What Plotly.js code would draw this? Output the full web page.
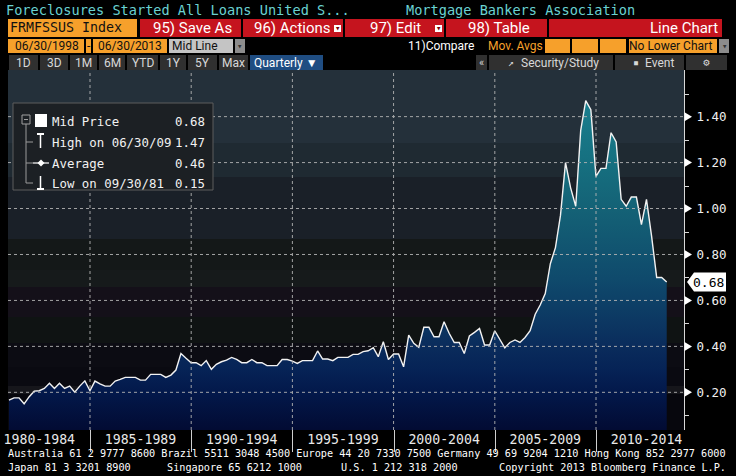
<!DOCTYPE html>
<html>
<head>
<meta charset="utf-8">
<script src="https://cdn.plot.ly/plotly-3.0.1.min.js"></script>
<style>
html,body{margin:0;padding:0;background:#000;}
#chart{width:736px;height:476px;}
</style>
</head>
<body>
<div id="chart"></div>
<script>
// ---------------- DATA ----------------
const quarterDates = [
  '1980-12-31',
  '1981-03-31','1981-06-30','1981-09-30','1981-12-31',
  '1982-03-31','1982-06-30','1982-09-30','1982-12-31',
  '1983-03-31','1983-06-30','1983-09-30','1983-12-31',
  '1984-03-31','1984-06-30','1984-09-30','1984-12-31',
  '1985-03-31','1985-06-30','1985-09-30','1985-12-31',
  '1986-03-31','1986-06-30','1986-09-30','1986-12-31',
  '1987-03-31','1987-06-30','1987-09-30','1987-12-31',
  '1988-03-31','1988-06-30','1988-09-30','1988-12-31',
  '1989-03-31','1989-06-30','1989-09-30','1989-12-31',
  '1990-03-31','1990-06-30','1990-09-30','1990-12-31',
  '1991-03-31','1991-06-30','1991-09-30','1991-12-31',
  '1992-03-31','1992-06-30','1992-09-30','1992-12-31',
  '1993-03-31','1993-06-30','1993-09-30','1993-12-31',
  '1994-03-31','1994-06-30','1994-09-30','1994-12-31',
  '1995-03-31','1995-06-30','1995-09-30','1995-12-31',
  '1996-03-31','1996-06-30','1996-09-30','1996-12-31',
  '1997-03-31','1997-06-30','1997-09-30','1997-12-31',
  '1998-03-31','1998-06-30','1998-09-30','1998-12-31',
  '1999-03-31','1999-06-30','1999-09-30','1999-12-31',
  '2000-03-31','2000-06-30','2000-09-30','2000-12-31',
  '2001-03-31','2001-06-30','2001-09-30','2001-12-31',
  '2002-03-31','2002-06-30','2002-09-30','2002-12-31',
  '2003-03-31','2003-06-30','2003-09-30','2003-12-31',
  '2004-03-31','2004-06-30','2004-09-30','2004-12-31',
  '2005-03-31','2005-06-30','2005-09-30','2005-12-31',
  '2006-03-31','2006-06-30','2006-09-30','2006-12-31',
  '2007-03-31','2007-06-30','2007-09-30','2007-12-31',
  '2008-03-31','2008-06-30','2008-09-30','2008-12-31',
  '2009-03-31','2009-06-30','2009-09-30','2009-12-31',
  '2010-03-31','2010-06-30','2010-09-30','2010-12-31',
  '2011-03-31','2011-06-30','2011-09-30','2011-12-31',
  '2012-03-31','2012-06-30','2012-09-30','2012-12-31',
  '2013-03-31','2013-06-30'
];
const midPrice = [
  0.166,
  0.176,0.176,0.150,0.181,
  0.205,0.207,0.217,0.239,
  0.217,0.239,0.217,0.227,
  0.201,0.227,0.250,0.207,
  0.249,0.237,0.227,0.227,
  0.249,0.256,0.265,0.265,
  0.265,0.253,0.253,0.278,
  0.278,0.278,0.265,0.275,
  0.297,0.369,0.348,0.329,
  0.329,0.316,0.338,0.300,
  0.322,0.333,0.340,0.352,
  0.343,0.329,0.329,0.343,
  0.329,0.329,0.316,0.316,
  0.316,0.343,0.343,0.336,
  0.326,0.338,0.338,0.338,
  0.380,0.345,0.345,0.338,
  0.352,0.352,0.352,0.365,
  0.365,0.377,0.381,0.394,
  0.355,0.420,0.343,0.367,
  0.367,0.311,0.449,0.413,
  0.396,0.483,0.483,0.442,
  0.442,0.507,0.457,0.417,
  0.417,0.369,0.445,0.461,
  0.478,0.406,0.406,0.468,
  0.432,0.394,0.417,0.428,
  0.417,0.439,0.468,0.540,
  0.580,0.630,0.760,0.830,
  0.970,1.200,1.090,1.010,
  1.340,1.470,1.430,1.140,
  1.175,1.175,1.330,1.290,
  1.040,1.010,1.050,1.050,
  0.930,1.040,0.880,0.700,
  0.700,0.680
];
const periodLabels = ['1980-1984','1985-1989','1990-1994','1995-1999','2000-2004','2005-2009','2010-2014'];
const periodMidDates = ['1982-07-01','1987-07-01','1992-07-01','1997-07-01','2002-07-01','2007-07-01','2012-07-01'];
const periodBoundaryDates = ['1985-01-01','1990-01-01','1995-01-01','2000-01-01','2005-01-01','2010-01-01'];
const yTickVals = [0.2,0.4,0.6,0.8,1.0,1.2,1.4];
const yTickText = ['0.20','0.40','0.60','0.80','1.00','1.20','1.40'];
const yMinorVals = [0.1,0.3,0.5,0.7,0.9,1.1,1.3,1.5];
const legendLabels = ['Mid Price','High on 06/30/09','Average','Low on 09/30/81'];
const legendValues = ['0.68','1.47','0.46','0.15'];
const titleLeft = 'Foreclosures Started All Loans United S...';
const titleRight = 'Mortgage Bankers Association';

// ---------------- GEOMETRY HELPERS ----------------
const W = 736, H = 476, ML = 8, MR = 52, MT = 70, MB = 46;
const PW = W - ML - MR, PH = H - MT - MB;
const px = X => (X - ML) / PW;
const py = Y => (H - MB - Y) / PH;
const yMin = 0.036, yMax = 1.603;
const xRange = ['1980-12-13','2014-05-08'];
const yFrac = v => (v - yMin) / (yMax - yMin);
const xFrac = d => (Date.parse(d) - Date.parse(xRange[0])) / (Date.parse(xRange[1]) - Date.parse(xRange[0]));
const yPix = v => 430 - yFrac(v) * PH;
const xPix = d => 8 + xFrac(d) * PW;

const MONO = 'DejaVu Sans Mono, Liberation Mono, monospace';
const NARROW = 'Liberation Sans Narrow, Roboto, sans-serif';
const ORANGE = '#f6a02b', RED = '#c5141e';
const GRID = '#b4b4b4';

const shapes = [];
const annotations = [];
function R(x0, y0, x1, y1, fill, layer, lineColor) {
  shapes.push({type:'rect', xref:'paper', yref:'paper', x0:px(x0), x1:px(x1), y0:py(y1), y1:py(y0),
    fillcolor:fill, line:{width:lineColor ? 1 : 0, color:lineColor || fill}, layer:layer || 'above'});
}
function L(x0, y0, x1, y1, color, width) {
  shapes.push({type:'line', xref:'paper', yref:'paper', x0:px(x0), x1:px(x1), y0:py(y0), y1:py(y1),
    line:{color:color, width:width || 1}, layer:'above'});
}
function P(pts, fill) {
  const d = pts.map((p, i) => (i ? 'L' : 'M') + px(p[0]) + ',' + py(p[1])).join(' ') + ' Z';
  shapes.push({type:'path', xref:'paper', yref:'paper', path:d, fillcolor:fill, line:{width:0}, layer:'above'});
}
function T(x, y, text, size, color, anchor, family) {
  annotations.push({xref:'paper', yref:'paper', x:px(x), y:py(y), text:text, showarrow:false,
    xanchor:anchor || 'left', yanchor:'middle', borderpad:0,
    font:{family:family || MONO, size:size, color:color}});
}

// ---------------- BACKGROUND BANDS (plot area) ----------------
const bands = [
  [70,143,'#24303a'],[143,177,'#1f2a32'],[177,239,'#1a2028'],[239,270,'#141818'],
  [270,287,'#161a1b'],[287,317,'#141019'],[317,343,'#0f1313'],[343,367,'#0c0c13'],
  [367,386,'#0a0a11'],[386,394,'#16161b'],[394,430,'#07070d']
];
bands.forEach(b => R(8, b[0], 684, b[1], b[2], 'below'));

// ---------------- TRACES ----------------
const trace = {
  type:'scatter', mode:'lines', x:quarterDates, y:midPrice,
  line:{color:'#f2f2f2', width:1.4},
  fill:'tozeroy',
  fillgradient:{type:'vertical', start:yMin, stop:1.5, colorscale:[
    [0.00,'#020b33'],[0.11,'#03184a'],[0.18,'#062356'],[0.25,'#0a2c5c'],
    [0.32,'#0c3762'],[0.45,'#0f4a6c'],[0.66,'#146276'],[0.80,'#167080'],[1.00,'#1a8090']]},
  hoverinfo:'skip'
};
// dotted grid drawn over the fill, built from the tick arrays
const gx = [], gy = [];
yTickVals.forEach(v => { gx.push(xRange[0], xRange[1], null); gy.push(v, v, null); });
periodBoundaryDates.forEach(d => { gx.push(d, d, null); gy.push(yMin, yMax, null); });
const gridTrace = {type:'scatter', mode:'lines', x:gx, y:gy, connectgaps:false,
  line:{color:GRID, width:1, dash:'dot'}, opacity:0.9, hoverinfo:'skip'};

// ---------------- TICK MARKS ----------------
periodBoundaryDates.forEach(d => { const x = Math.round(xPix(d)) + 0.5; L(x, 430, x, 452, '#cfcfcf', 1); });
yMinorVals.forEach(v => { const y = Math.round(yPix(v)) + 0.5; L(684, y, 689, y, '#d8d8d8', 1); });
yTickVals.forEach(v => { const yc = yPix(v); P([[684.5, yc - 4.5], [692, yc], [684.5, yc + 4.5]], '#ffffff'); });

// last value tag
const lastVal = midPrice[midPrice.length - 1];
const lastY = yPix(lastVal);
P([[687, lastY], [694, lastY - 9.5], [726, lastY - 9.5], [726, lastY + 9.5], [694, lastY + 9.5]], '#ffffff');
annotations.push({xref:'paper', yref:'y', x:px(708), y:lastVal, text:lastVal.toFixed(2), showarrow:false,
  xanchor:'center', yanchor:'middle', font:{family:MONO, size:13, color:'#000'}});

// ---------------- HEADER ----------------
T(5, 10, titleLeft, 13.6, '#6ad2d2');
T(405, 10, titleRight, 13.6, '#6ad2d2');

R(8, 19, 137, 37, ORANGE);
T(9, 28, 'FRMFSSUS Index', 13.3, '#111');
[[140,241],[243,343],[345,444],[446,547],[549,722]].forEach(b => R(b[0], 19, b[1], 37, RED));
T(192, 28, '95) Save As', 15, '#fff', 'center', NARROW);
T(292, 28, '96) Actions', 15, '#fff', 'center', NARROW);
R(334, 25, 341, 32, '#ffffff'); T(337.5, 28.5, '▾', 9, '#7a0000', 'center');
T(395, 28, '97) Edit', 15, '#fff', 'center', NARROW);
R(435, 25, 442, 32, '#ffffff'); T(438.5, 28.5, '▾', 9, '#7a0000', 'center');
T(499, 28, '98) Table', 15, '#fff', 'center', NARROW);
T(719, 28, 'Line Chart', 15, '#fff', 'right', NARROW);

R(8, 39, 84, 53, ORANGE); R(86, 39, 91, 53, ORANGE); R(93, 39, 167, 53, ORANGE);
T(47, 46, '06/30/1998', 12, '#111', 'center', NARROW);
T(88.5, 46, '-', 12, '#111', 'center', NARROW);
T(130, 46, '06/30/2013', 12, '#111', 'center', NARROW);
R(169, 39, 233, 53, '#c4c4c4');
T(171, 46, 'Mid Line', 12, '#111', 'left', NARROW);
R(235, 39, 245, 53, '#8c8c8c'); T(240, 46, '▾', 9, '#333', 'center');
T(441, 46, '11)Compare', 12, '#ffffff', 'center', NARROW);
T(515, 46, 'Mov. Avgs', 12, ORANGE, 'center', NARROW);
R(545, 39, 570, 53, ORANGE); R(572, 39, 598, 53, ORANGE); R(600, 39, 626, 53, ORANGE);
R(629, 39, 717, 53, ORANGE);
T(670, 46, 'No Lower Chart', 12, '#111', 'center', NARROW);
R(719, 39, 729, 53, '#8c8c8c'); T(724, 46, '▾', 9, '#333', 'center');

const rangeButtons = [[9,38,'1D'],[40,68,'3D'],[70,97,'1M'],[99,125,'6M'],[127,158,'YTD'],[160,186,'1Y'],[188,217,'5Y'],[219,248,'Max']];
rangeButtons.forEach(b => { R(b[0], 55, b[1], 70, '#303030'); T((b[0]+b[1])/2, 62.5, b[2], 12, '#d8d8d8', 'center', NARROW); });
R(250, 55, 323, 70, '#1f4d82'); T(286, 62.5, 'Quarterly ▼', 12, '#ffffff', 'center', NARROW);
R(476, 55, 487, 70, '#303030'); T(481.5, 62.5, '«', 11, '#d8d8d8', 'center', NARROW);
R(489, 55, 613, 70, '#303030'); T(511, 62.5, '↗', 10, '#d8d8d8', 'center'); T(560, 62.5, 'Security/Study', 12, '#d8d8d8', 'center', NARROW);
R(615, 55, 684, 70, '#303030'); T(636, 62.5, '▪', 10, '#d8d8d8', 'center'); T(659, 62.5, 'Event', 12, '#d8d8d8', 'center', NARROW);
R(686, 55, 727, 70, '#303030'); T(706, 62.5, '⚙', 11, '#d8d8d8', 'center');

// ---------------- LEGEND BOX ----------------
R(13, 103, 213, 190, '#1c2024', 'above', '#5c5c5c');
R(22, 115, 30, 124, 'rgba(0,0,0,0)', 'above', '#a0a0a0');
L(24, 119.5, 28, 119.5, '#a0a0a0', 1);
L(26, 124, 26, 183, '#9a9a9a', 1);
[142, 163, 183].forEach(y => L(26, y, 33, y, '#9a9a9a', 1));
R(35, 114, 47, 127, '#ffffff');
L(37, 134, 44, 134, '#ffffff', 2); L(40.5, 134, 40.5, 148, '#ffffff', 1.5);
L(33, 163, 49, 163, '#ffffff', 1.2); P([[41,159.5],[44.5,163],[41,166.5],[37.5,163]], '#ffffff');
L(40.5, 176, 40.5, 189, '#ffffff', 1.5); L(37, 189, 44, 189, '#ffffff', 2);
const legendRowY = [121, 142, 163, 183];
legendLabels.forEach((s, i) => T(51, legendRowY[i], s, 12.4, '#f2f2f2'));
legendValues.forEach((s, i) => T(206, legendRowY[i], s, 12.4, '#f2f2f2', 'right'));

// ---------------- FOOTER ----------------
T(7, 453, 'Australia 61 2 9777 8600 Brazil 5511 3048 4500 Europe 44 20 7330 7500 Germany 49 69 9204 1210 Hong Kong 852 2977 6000', 10.2, '#ffffff');
T(7, 467, 'Japan 81 3 3201 8900', 10.2, '#ffffff');
T(166, 467, 'Singapore 65 6212 1000', 10.2, '#ffffff');
T(340, 467, 'U.S. 1 212 318 2000', 10.2, '#ffffff');
T(498, 467, 'Copyright 2013 Bloomberg Finance L.P.', 10.2, '#ffffff');

const layout = {
  width:W, height:H,
  margin:{l:ML, r:MR, t:MT, b:MB, pad:0},
  paper_bgcolor:'#000', plot_bgcolor:'#000',
  showlegend:false,
  xaxis:{type:'date', range:xRange, tickmode:'array', tickvals:periodMidDates, ticktext:periodLabels,
    ticks:'', showgrid:false, zeroline:false, showline:false,
    tickfont:{family:MONO, size:13.2, color:'#e8e8e8'}},
  yaxis:{side:'right', range:[yMin, yMax], tickmode:'array', tickvals:yTickVals, ticktext:yTickText,
    ticks:'', showgrid:false, zeroline:false, showline:true, linecolor:'#d8d8d8', linewidth:1,
    ticklabelstandoff:9, tickfont:{family:MONO, size:12.5, color:'#f0f0f0'}},
  shapes:shapes,
  annotations:annotations
};

Plotly.newPlot('chart', [trace, gridTrace], layout, {staticPlot:true, displayModeBar:false});
</script>
</body>
</html>
